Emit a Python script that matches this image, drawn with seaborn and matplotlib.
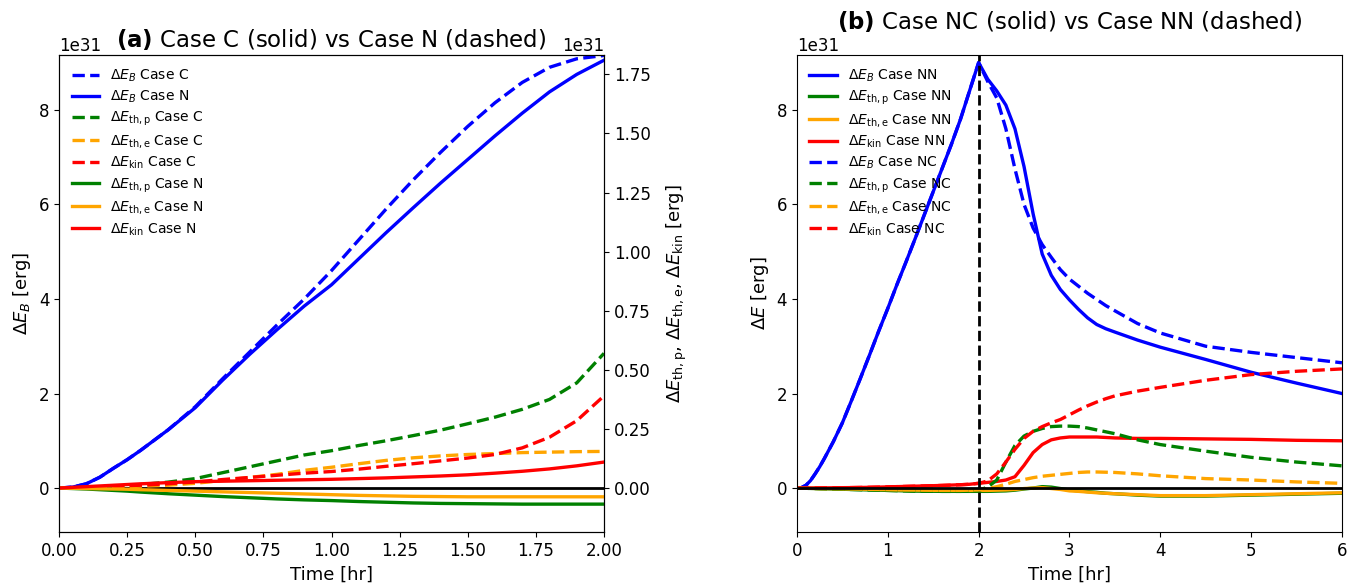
import numpy as np
import matplotlib
matplotlib.use("Agg")
import matplotlib.pyplot as plt
import seaborn as sns

SCALE = 1e31

# ---- panel (a): Case C vs Case N, t in hr, energies in 1e31 erg ----
t_a = [0.0, 0.05, 0.1, 0.15, 0.2, 0.25, 0.3, 0.4, 0.5, 0.6, 0.7, 0.8, 0.9, 1.0,
       1.1, 1.2, 1.3, 1.4, 1.5, 1.6, 1.7, 1.8, 1.9, 2.0]

eb_c = [0, 0.02, 0.09, 0.23, 0.42, 0.6, 0.8, 1.23, 1.72, 2.31, 2.88, 3.45, 4.0, 4.6,
        5.25, 5.9, 6.52, 7.1, 7.65, 8.15, 8.58, 8.9, 9.08, 9.15]
eb_n = [0, 0.02, 0.09, 0.23, 0.42, 0.6, 0.8, 1.23, 1.7, 2.28, 2.83, 3.35, 3.85, 4.3,
        4.85, 5.4, 5.93, 6.45, 6.95, 7.45, 7.93, 8.38, 8.75, 9.05]

# right (twin) axis quantities
thp_c = [0, 0.001, 0.003, 0.005, 0.008, 0.011, 0.015, 0.025, 0.04, 0.065, 0.09, 0.115, 0.14, 0.158,
         0.18, 0.2, 0.222, 0.245, 0.272, 0.3, 0.333, 0.375, 0.445, 0.57]
the_c = [0, 0.001, 0.002, 0.003, 0.005, 0.006, 0.008, 0.012, 0.02, 0.032, 0.045, 0.058, 0.075, 0.088,
         0.103, 0.117, 0.128, 0.136, 0.142, 0.146, 0.15, 0.152, 0.154, 0.155]
kin_c = [0, 0.001, 0.003, 0.005, 0.007, 0.01, 0.012, 0.018, 0.026, 0.036, 0.045, 0.054, 0.063, 0.07,
         0.08, 0.092, 0.103, 0.115, 0.127, 0.142, 0.17, 0.215, 0.285, 0.39]
thp_n = [0, -0.002, -0.004, -0.007, -0.01, -0.013, -0.017, -0.024, -0.03, -0.036, -0.041, -0.046, -0.05, -0.053,
         -0.057, -0.06, -0.063, -0.065, -0.066, -0.067, -0.068, -0.068, -0.068, -0.068]
the_n = [0, -0.001, -0.002, -0.003, -0.004, -0.005, -0.007, -0.01, -0.013, -0.016, -0.019, -0.022, -0.025, -0.028,
         -0.031, -0.033, -0.035, -0.036, -0.037, -0.037, -0.037, -0.037, -0.037, -0.037]
kin_n = [0, 0.003, 0.006, 0.009, 0.012, 0.015, 0.018, 0.023, 0.027, 0.029, 0.031, 0.033, 0.035, 0.037,
         0.04, 0.043, 0.047, 0.051, 0.056, 0.063, 0.071, 0.081, 0.094, 0.11]

# ---- panel (b): Case NN vs Case NC ----
t_b = [0.0, 0.05, 0.1, 0.15, 0.2, 0.25, 0.3, 0.4, 0.5, 0.6, 0.7, 0.8, 0.9, 1.0,
       1.1, 1.2, 1.3, 1.4, 1.5, 1.6, 1.7, 1.8, 1.9, 2.0,
       2.1, 2.2, 2.3, 2.4, 2.5, 2.6, 2.7, 2.8, 2.9, 3.0,
       3.1, 3.2, 3.3, 3.4, 3.5, 3.75, 4.0, 4.5, 5.0, 5.5, 6.0]

eb_nn = [0, 0.01, 0.06, 0.16, 0.3, 0.45, 0.62, 0.98, 1.38, 1.85, 2.33, 2.82, 3.32, 3.8,
         4.3, 4.78, 5.27, 5.77, 6.27, 6.77, 7.27, 7.8, 8.4, 9.0,
         8.65, 8.4, 8.1, 7.6, 6.8, 5.8, 4.95, 4.5, 4.2, 3.98,
         3.78, 3.6, 3.46, 3.37, 3.3, 3.13, 2.98, 2.72, 2.45, 2.22, 2.0]
thp_nn = [0, -0.003, -0.005, -0.008, -0.01, -0.013, -0.015, -0.02, -0.025, -0.03, -0.035, -0.04, -0.045, -0.05,
          -0.055, -0.06, -0.065, -0.067, -0.068, -0.07, -0.07, -0.07, -0.07, -0.07,
          -0.07, -0.065, -0.06, -0.045, -0.02, 0.0, 0.03, 0.02, -0.01, -0.04,
          -0.06, -0.075, -0.09, -0.11, -0.12, -0.15, -0.17, -0.17, -0.15, -0.13, -0.11]
the_nn = [0, -0.002, -0.004, -0.006, -0.008, -0.01, -0.011, -0.013, -0.016, -0.02, -0.023, -0.027, -0.03, -0.035,
          -0.04, -0.042, -0.044, -0.046, -0.048, -0.05, -0.05, -0.05, -0.05, -0.05,
          -0.05, -0.045, -0.04, -0.03, -0.01, 0.0, 0.01, -0.01, -0.03, -0.06,
          -0.07, -0.085, -0.1, -0.11, -0.12, -0.14, -0.16, -0.16, -0.14, -0.12, -0.1]
kin_nn = [0, 0.0005, 0.001, 0.0015, 0.002, 0.003, 0.004, 0.006, 0.008, 0.01, 0.013, 0.016, 0.02, 0.025,
          0.03, 0.035, 0.04, 0.045, 0.05, 0.056, 0.063, 0.07, 0.08, 0.1,
          0.12, 0.14, 0.17, 0.24, 0.48, 0.75, 0.92, 1.02, 1.06, 1.08,
          1.08, 1.08, 1.08, 1.07, 1.06, 1.05, 1.05, 1.04, 1.03, 1.01, 1.0]

eb_nc = [0, 0.01, 0.06, 0.16, 0.3, 0.45, 0.62, 0.98, 1.38, 1.85, 2.33, 2.82, 3.32, 3.8,
         4.3, 4.78, 5.27, 5.77, 6.27, 6.77, 7.27, 7.8, 8.4, 9.0,
         8.6, 8.25, 7.6, 6.75, 6.0, 5.5, 5.15, 4.88, 4.62, 4.42,
         4.27, 4.12, 3.99, 3.86, 3.75, 3.48, 3.28, 3.0, 2.87, 2.76, 2.65]
thp_nc = [0, -0.003, -0.005, -0.008, -0.01, -0.013, -0.015, -0.02, -0.025, -0.03, -0.035, -0.04, -0.045, -0.05,
          -0.055, -0.06, -0.065, -0.067, -0.068, -0.07, -0.07, -0.07, -0.065, -0.05,
          0.02, 0.17, 0.55, 0.9, 1.1, 1.2, 1.26, 1.3, 1.31, 1.31,
          1.3, 1.27, 1.23, 1.19, 1.15, 1.02, 0.92, 0.78, 0.65, 0.55, 0.47]
the_nc = [0, -0.002, -0.004, -0.006, -0.008, -0.01, -0.011, -0.013, -0.016, -0.02, -0.023, -0.027, -0.03, -0.035,
          -0.04, -0.042, -0.044, -0.046, -0.048, -0.05, -0.05, -0.05, -0.045, -0.04,
          -0.01, 0.03, 0.08, 0.14, 0.18, 0.22, 0.25, 0.27, 0.29, 0.31,
          0.33, 0.34, 0.34, 0.335, 0.33, 0.3, 0.26, 0.2, 0.17, 0.13, 0.1]
kin_nc = [0, 0.0005, 0.001, 0.0015, 0.002, 0.003, 0.004, 0.006, 0.008, 0.01, 0.013, 0.016, 0.02, 0.025,
          0.03, 0.035, 0.04, 0.045, 0.05, 0.056, 0.063, 0.07, 0.08, 0.1,
          0.15, 0.3, 0.55, 0.82, 1.05, 1.2, 1.3, 1.38, 1.45, 1.55,
          1.65, 1.74, 1.82, 1.89, 1.95, 2.05, 2.13, 2.28, 2.4, 2.47, 2.52]

LW = 2.4
plt.rcParams['font.size'] = 12
plt.rcParams['axes.labelsize'] = 13

fig = plt.figure(figsize=(13.57, 5.84), dpi=100)
ax1 = fig.add_axes([0.0435, 0.089, 0.4016, 0.8168])
ax1r = ax1.twinx()
ax2 = fig.add_axes([0.5873, 0.089, 0.4016, 0.8168])


def line(ax, t, v, color, ls, label):
    sns.lineplot(x=t, y=np.array(v) * SCALE, ax=ax, color=color, linestyle=ls,
                 lw=LW, label=label, legend=False)


# panel (a)
line(ax1, t_a, eb_c, 'blue', '--', r'$\Delta E_B$ Case C')
line(ax1, t_a, eb_n, 'blue', '-', r'$\Delta E_B$ Case N')
line(ax1r, t_a, thp_c, 'green', '--', r'$\Delta E_{\mathrm{th,p}}$ Case C')
line(ax1r, t_a, the_c, 'orange', '--', r'$\Delta E_{\mathrm{th,e}}$ Case C')
line(ax1r, t_a, kin_c, 'red', '--', r'$\Delta E_{\mathrm{kin}}$ Case C')
line(ax1r, t_a, thp_n, 'green', '-', r'$\Delta E_{\mathrm{th,p}}$ Case N')
line(ax1r, t_a, the_n, 'orange', '-', r'$\Delta E_{\mathrm{th,e}}$ Case N')
line(ax1r, t_a, kin_n, 'red', '-', r'$\Delta E_{\mathrm{kin}}$ Case N')
ax1.axhline(0, color='black', lw=2)

ax1.set_xlim(0, 2)
ax1.set_ylim(-0.93 * SCALE, 9.16 * SCALE)
ax1r.set_ylim(-0.186 * SCALE, 1.832 * SCALE)
ax1.set_xticks(np.arange(0, 2.01, 0.25))
ax1.set_xlabel('Time [hr]')
ax1.set_ylabel(r'$\Delta E_B$ [erg]')
ax1r.set_ylabel(r'$\Delta E_{\mathrm{th,p}}$, $\Delta E_{\mathrm{th,e}}$, $\Delta E_{\mathrm{kin}}$ [erg]',
                labelpad=10)
ax1.set_title(r'$\bf{(a)}$ Case C (solid) vs Case N (dashed)', fontsize=16.5)

h1, l1 = ax1.get_legend_handles_labels()
h2, l2 = ax1r.get_legend_handles_labels()
ax1r.legend(h1 + h2, l1 + l2, loc='upper left', frameon=False, fontsize=10,
            labelspacing=0.35)

# panel (b)
line(ax2, t_b, eb_nn, 'blue', '-', r'$\Delta E_B$ Case NN')
line(ax2, t_b, thp_nn, 'green', '-', r'$\Delta E_{\mathrm{th,p}}$ Case NN')
line(ax2, t_b, the_nn, 'orange', '-', r'$\Delta E_{\mathrm{th,e}}$ Case NN')
line(ax2, t_b, kin_nn, 'red', '-', r'$\Delta E_{\mathrm{kin}}$ Case NN')
line(ax2, t_b, eb_nc, 'blue', '--', r'$\Delta E_B$ Case NC')
line(ax2, t_b, thp_nc, 'green', '--', r'$\Delta E_{\mathrm{th,p}}$ Case NC')
line(ax2, t_b, the_nc, 'orange', '--', r'$\Delta E_{\mathrm{th,e}}$ Case NC')
line(ax2, t_b, kin_nc, 'red', '--', r'$\Delta E_{\mathrm{kin}}$ Case NC')
ax2.axhline(0, color='black', lw=2)
ax2.axvline(2, color='black', ls='--', lw=2)

ax2.set_xlim(0, 6)
ax2.set_ylim(-0.93 * SCALE, 9.16 * SCALE)
ax2.set_xlabel('Time [hr]')
ax2.set_ylabel(r'$\Delta E$ [erg]')
ax2.set_title(r'$\bf{(b)}$ Case NC (solid) vs Case NN (dashed)', fontsize=16.5)
ax2.legend(loc='upper left', frameon=False, fontsize=10, labelspacing=0.35)

fig.savefig('out.png', dpi=100)
